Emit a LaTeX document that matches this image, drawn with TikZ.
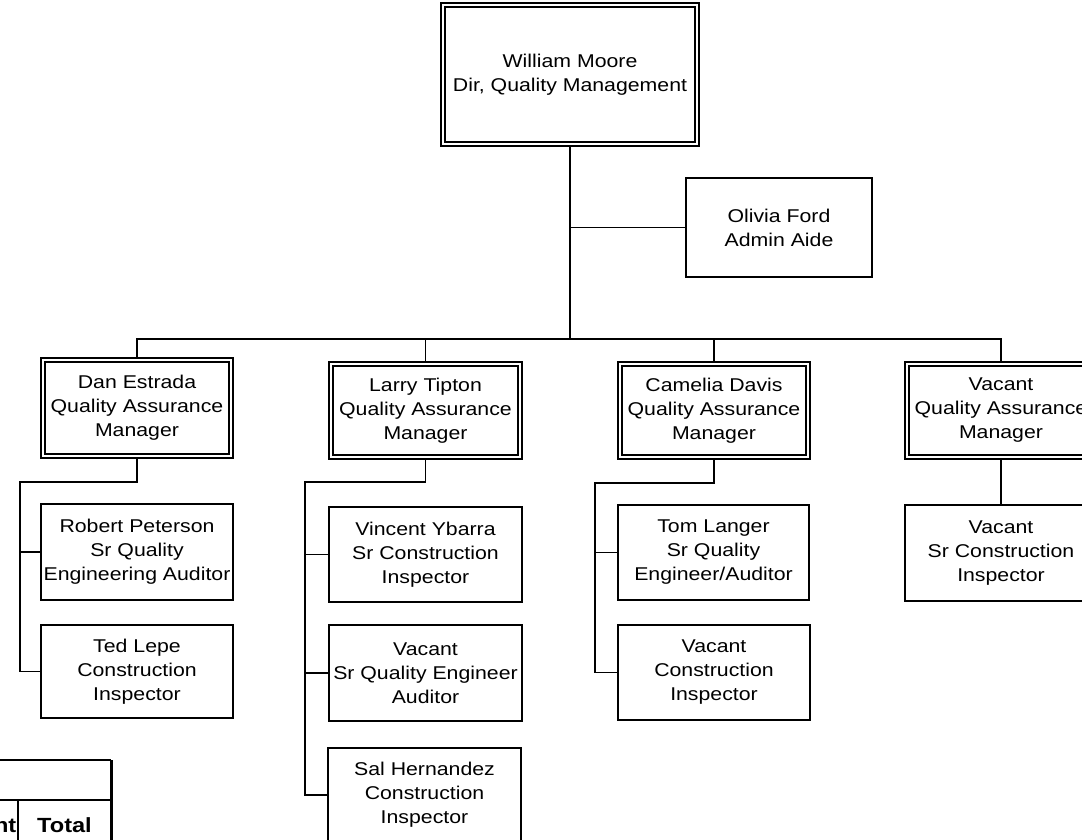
\documentclass[tikz,border=0pt]{standalone}
\usepackage{fontspec}
\setmainfont{Liberation Sans}[FakeStretch=1.15]
\begin{document}
\begin{tikzpicture}[x=1pt,y=-1pt,
  every node/.style={font=\fontsize{18.5}{24}\selectfont, align=center, inner sep=0pt},
  sbox/.style={draw, line width=1.3pt, fill=white, rectangle, outer sep=0.65pt},
  dbox/.style={draw, line width=1.3pt, double, double distance=2.7pt, rectangle, outer sep=2.65pt},
  conn/.style={line width=1.8pt},
  thin conn/.style={line width=1.5pt},
  tab/.style={line width=1.5pt}]
\useasboundingbox (0,0) rectangle (1082,839);

% top level
\node[dbox, minimum width=254pt, minimum height=139pt] (top) at (570,74.5) {William Moore\\Dir, Quality Management};
\node[sbox, minimum width=186pt, minimum height=99pt] (olivia) at (779,227.5) {Olivia Ford\\Admin Aide};

% managers
\node[dbox, minimum width=188pt, minimum height=96pt] (dan) at (137,408) {Dan Estrada\\Quality Assurance\\Manager};
\node[dbox, minimum width=189pt, minimum height=93pt] (larry) at (425.5,410.5) {Larry Tipton\\Quality Assurance\\Manager};
\node[dbox, minimum width=188pt, minimum height=93pt] (camelia) at (714,410.5) {Camelia Davis\\Quality Assurance\\Manager};
\node[dbox, minimum width=188pt, minimum height=93pt] (vacantmgr) at (1001,410.5) {Vacant\\Quality Assurance\\Manager};

% staff
\node[sbox, minimum width=192pt, minimum height=96pt] (robert) at (137,552) {Robert Peterson\\Sr Quality\\Engineering Auditor};
\node[sbox, minimum width=192pt, minimum height=93pt] (ted) at (137,671.5) {Ted Lepe\\Construction\\Inspector};
\node[sbox, minimum width=193pt, minimum height=95pt] (vincent) at (425.5,554.5) {Vincent Ybarra\\Sr Construction\\Inspector};
\node[sbox, minimum width=193pt, minimum height=96pt] (vacantb) at (425.5,673) {Vacant\\Sr Quality Engineer\\Auditor};
\node[sbox, minimum width=193pt, minimum height=94pt] (sal) at (424.5,795) {Sal Hernandez\\Construction\\Inspector};
\node[sbox, minimum width=191pt, minimum height=95pt] (tom) at (713.5,552.5) {Tom Langer\\Sr Quality\\Engineer/Auditor};
\node[sbox, minimum width=192pt, minimum height=95pt] (vacantc) at (714,672.5) {Vacant\\Construction\\Inspector};
\node[sbox, minimum width=192pt, minimum height=96pt] (vacantd) at (1001,553) {Vacant\\Sr Construction\\Inspector};

% connectors
\coordinate (bus) at (570,339);
\draw[conn] (top.south) -- (bus);
\draw[thin conn] (olivia.west) -- (olivia.west -| top.south);
\draw[conn] (dan.north) |- (bus) -| (vacantmgr.north);
\draw[conn] (larry.north) -- (larry.north |- bus);
\draw[conn] (camelia.north) -- (camelia.north |- bus);

\coordinate (dspine) at (20,482);
\draw[conn] (dan.south) |- (dspine) |- (ted.west);
\draw[thin conn] (robert.west) -- (robert.west -| dspine);

\coordinate (lspine) at (305,482);
\draw[conn] (larry.south) |- (lspine) |- (sal.west);
\draw[thin conn] (vincent.west) -- (vincent.west -| lspine);
\draw[thin conn] (vacantb.west) -- (vacantb.west -| lspine);

\coordinate (cspine) at (595,483);
\draw[conn] (camelia.south) |- (cspine) |- (vacantc.west);
\draw[thin conn] (tom.west) -- (tom.west -| cspine);

\draw[conn] (vacantmgr.south) -- (vacantd.north);

% table fragment
\coordinate (t1) at (0,760);
\coordinate (t2) at (111,760);
\coordinate (t3) at (111,845);
\coordinate (t4) at (0,800);
\coordinate (t5) at (111,800);
\coordinate (t6) at (18,800);
\coordinate (t7) at (18,845);
\draw[tab] (t1) -- (t2);
\draw[tab] (t4) -- (t5);
\draw[tab] (t6) -- (t7);
\draw[line width=3pt] (t2) -- (t3);
\node[font=\fontsize{20.5}{24}\selectfont\bfseries, anchor=base] (total) at (64.5,832.5) {Total};
\node[font=\fontsize{20.5}{24}\selectfont\bfseries, anchor=base east] (nt) at (16.5,832.5) {nt};
\end{tikzpicture}
\end{document}
